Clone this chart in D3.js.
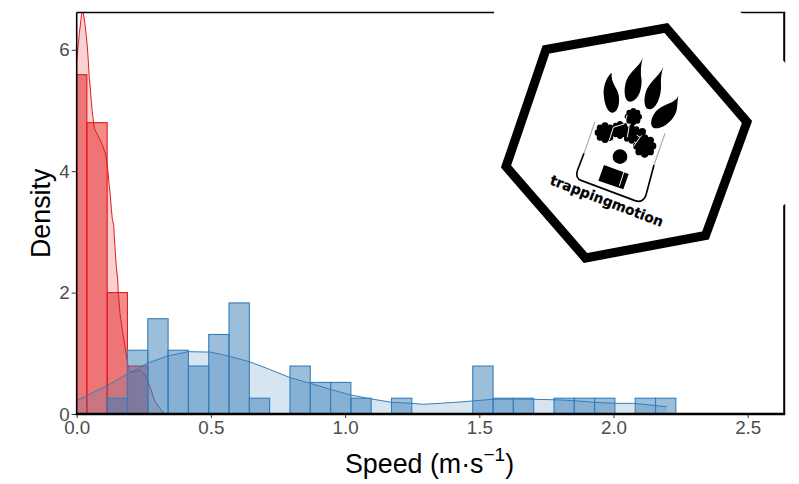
<!DOCTYPE html>
<html><head><meta charset="utf-8">
<script src="https://cdn.jsdelivr.net/npm/d3@7"></script>
<style>html,body{margin:0;padding:0;background:#fff}svg{display:block}</style>
</head><body><svg id="c" width="799" height="484"></svg>
<script>
const binWidth = 0.07567;
const firstBinStart = -0.03784;
const redBins = [5.59, 4.80, 2.00, 0.79];
const blueBins = [0, 0, 0.26, 1.05, 1.57, 1.05, 0.79, 1.31, 1.83, 0.26, 0, 0.79, 0.52, 0.52, 0.26, 0, 0.26, 0, 0, 0, 0.79, 0.26, 0.26, 0, 0.26, 0.26, 0.26, 0, 0.26, 0.26];
const redSpeed = [0,.0099,.0149,.0186,.021,.0246,.0298,.0347,.0395,.0432,.047,.0507,.0544,.0581,.0618,.0663,.0905,.1066,.1118,.1166,.1203,.1252,.1289,.1326,.1379,.1401,.1438,.1475,.1528,.155,.1613,.17,.18,.1923,.205,.236,.2545,.273,.2917,.31,.3253];
const redDensity = [5.82,6.27,6.46,6.61,6.72,6.61,6.46,6.27,6.06,5.82,5.53,5.37,5.15,4.98,4.85,4.70,4.49,4.30,4.16,3.99,3.80,3.61,3.39,3.22,3.11,2.92,2.67,2.43,2.21,2.0,1.66,1.38,1.11,.753,.68,.725,.643,.45,.203,.094,.01].slice(0);
const blueSpeed = [0,.114,.186,.263,.338,.416,.498,.565,.643,.718,.792,.870,.945,1.021,1.099,1.174,1.248,1.291,1.354,1.428,1.474,1.552,1.627,1.703,1.779,1.854,1.928,2.008,2.073,2.124,2.198];
const blueDensity = [.22,.47,.65,.835,.955,1.027,1.02,.955,.862,.736,.604,.505,.406,.313,.247,.192,.176,.16,.176,.198,.214,.242,.247,.242,.235,.22,.193,.176,.176,.154,.12];
const xTicks = [0, 0.5, 1, 1.5, 2, 2.5];
const yTicks = [0, 2, 4, 6];
const xLabel = "Speed (m\u00b7s";
const xLabelSup = "\u22121";
const yLabel = "Density";
const logoText = "trappingmotion";
const RED = "#E41A1C", BLUE = "#377EB8";

const L = 76.7, R = 784.2, T = 12.5, B = 414;
const x = d3.scaleLinear().domain([0, (R - L) / 268.4]).range([L, R]);
const y = d3.scaleLinear().domain([0, (B - T) / 60.7]).range([B, T]);
const svg = d3.select("#c");
svg.append("defs").append("clipPath").attr("id", "plot").append("rect")
  .attr("x", L).attr("y", T).attr("width", R - L).attr("height", B - T);
const plot = svg.append("g").attr("clip-path", "url(#plot)");

function zip(a, b) { return a.map((v, i) => [v, b[i]]); }
const area = d3.area().x(d => x(d[0])).y0(y(0)).y1(d => y(d[1]));
const line = d3.line().x(d => x(d[0])).y(d => y(d[1]));

function bars(vals, color) {
  plot.append("g").selectAll("rect").data(vals.map((v, i) => ({v, i})).filter(d => d.v > 0)).join("rect")
    .attr("x", d => x(firstBinStart + d.i * binWidth))
    .attr("width", x(binWidth) - x(0))
    .attr("y", d => y(d.v))
    .attr("height", d => y(0) - y(d.v))
    .attr("fill", color).attr("fill-opacity", 0.5)
    .attr("stroke", color).attr("stroke-width", 1.1);
}
function density(xs, ys, color) {
  const d = zip(xs, ys);
  plot.append("path").datum(d).attr("d", area).attr("fill", color).attr("fill-opacity", 0.2);
  plot.append("path").datum(d).attr("d", line).attr("fill", "none").attr("stroke", color).attr("stroke-width", 1);
}
bars(redBins, RED);
density(redSpeed, redDensity, RED);
bars(blueBins, BLUE);
density(blueSpeed, blueDensity, BLUE);

svg.append("line").attr("x1", L).attr("x2", R + 1).attr("y1", T).attr("y2", T).attr("stroke", "#000").attr("stroke-width", 1.3);
svg.append("line").attr("x1", R).attr("x2", R).attr("y1", T).attr("y2", B).attr("stroke", "#000").attr("stroke-width", 2);
svg.append("line").attr("x1", L).attr("x2", L).attr("y1", T).attr("y2", B).attr("stroke", "#000").attr("stroke-width", 1.6);

const xAxis = svg.append("g").attr("transform", `translate(0,${B})`)
  .call(d3.axisBottom(x).tickValues(xTicks).tickFormat(d3.format(".1f")).tickSize(4).tickPadding(3));
const yAxis = svg.append("g").attr("transform", `translate(${L},0)`)
  .call(d3.axisLeft(y).tickValues(yTicks).tickFormat(d3.format("d")).tickSize(5).tickPadding(2));
for (const a of [xAxis, yAxis]) {
  a.select(".domain").remove();
  a.selectAll(".tick line").attr("stroke", "#333").attr("stroke-width", 1);
  a.selectAll("text").attr("fill", "#4d4d4d").style("font-family", "'Liberation Sans',Arial,sans-serif").style("font-size", "18.8px");
}
svg.append("line").attr("x1", L - 1).attr("x2", R + 1).attr("y1", B).attr("y2", B).attr("stroke", "#000").attr("stroke-width", 2.6);

const lab = svg.append("text").attr("x", 345).attr("y", 472.5)
  .style("font-family", "'Liberation Sans',Arial,sans-serif").style("font-size", "26.8px").attr("fill", "#000");
lab.append("tspan").text(xLabel);
lab.append("tspan").attr("dy", -12).style("font-size", "19px").text(xLabelSup);
lab.append("tspan").attr("dy", 12).text(")");
svg.append("text").attr("transform", "translate(50,258) rotate(-90)")
  .style("font-family", "'Liberation Sans',Arial,sans-serif").style("font-size", "26.8px").attr("fill", "#000").text(yLabel);

// logo image
const logo = svg.append("g");
logo.append("polygon").attr("points", "494,8 737,8 788,66 788,202 700,264 585,268 498,170").attr("fill", "#fff");
logo.append("polygon").attr("points", "546,49.5 666.2,28 747,122 705.5,235.5 585.5,258 506,166.5")
  .attr("fill", "#fff").attr("stroke", "#000").attr("stroke-width", 9).attr("stroke-linejoin", "miter");
const paw = logo.append("g").attr("transform", "translate(570,50) scale(0.3333)");
const toes = [
 "M125,68 C112,78 100,105 101,130 C102,165 115,190 128,188 C145,185 150,160 146,135 C142,112 122,100 125,68Z",
 "M218,25 C208,50 180,65 170,90 C160,115 162,155 180,155 C205,155 218,115 214,85 C212,65 212,50 218,25Z",
 "M280,50 C270,75 245,90 232,115 C220,140 220,178 238,178 C260,178 275,135 273,105 C272,85 274,70 280,50Z",
 "M325,138 C315,160 285,160 262,180 C242,198 235,235 258,235 C285,235 315,205 320,180 C323,165 322,152 325,138Z"];
paw.selectAll("path.toe").data(toes).join("path").attr("class", "toe").attr("d", d => d).attr("fill", "#000");
// lobed pads: [cx, cy, body radius, lobe ring radius, lobe radius]
const pads = [[105,248,20,21,10],[150,240,18,18,9],[190,200,18,17,9],[185,252,20,20,9],[224,288,24,24,11]];
for (const p of pads) {
  const g = paw.append("g");
  g.append("circle").attr("cx", p[0]).attr("cy", p[1]).attr("r", p[2]).attr("fill", "#000");
  g.selectAll("circle.l").data(d3.range(8)).join("circle").attr("class", "l")
    .attr("cx", i => p[0] + p[3] * Math.cos(i * Math.PI / 4))
    .attr("cy", i => p[1] + p[3] * Math.sin(i * Math.PI / 4))
    .attr("r", p[4]).attr("fill", "#000");
}
paw.append("path").attr("d", "M118,270 L130,232 L162,222 L172,195 M172,262 L178,225 M200,255 L210,262 L190,290")
  .attr("stroke", "#fff").attr("stroke-width", 3).attr("fill", "none");
paw.append("circle").attr("cx", 217).attr("cy", 245).attr("r", 11).attr("fill", "#000");
paw.append("circle").attr("cx", 150).attr("cy", 320).attr("r", 22).attr("fill", "#000");
paw.append("polygon").attr("points", "102,345 176,372 160,418 85,392").attr("fill", "#000");
paw.append("path").attr("d", "M162,365 L148,408").attr("stroke", "#fff").attr("stroke-width", 3);
paw.append("path").attr("d", "M42,310 L22,362 Q15,385 35,392 L195,452 Q220,460 228,435 L252,345")
  .attr("fill", "none").attr("stroke", "#000").attr("stroke-width", 5);
paw.append("path").attr("d", "M75,215 L42,310 M252,345 L285,250").attr("fill", "none").attr("stroke", "#aaa").attr("stroke-width", 3.5);
logo.append("text").attr("transform", "translate(549,184) rotate(21)")
  .attr("textLength", 120).attr("lengthAdjust", "spacingAndGlyphs")
  .style("font-family", "'DejaVu Sans',sans-serif").style("font-weight", "600").style("font-size", "14px").attr("fill", "#000").attr("stroke", "#000").attr("stroke-width", 0.2).text(logoText);
</script></body></html>
